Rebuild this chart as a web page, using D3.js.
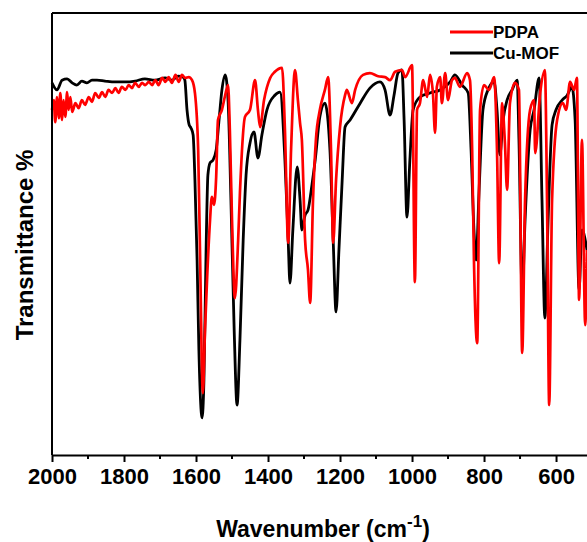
<!DOCTYPE html>
<html>
<head>
<meta charset="utf-8">
<script src="https://cdn.jsdelivr.net/npm/d3@7"></script>
<style>
  body { margin: 0; background: #fff; }
  svg text { font-family: "Liberation Sans", Arial, sans-serif; font-weight: bold; fill: #000; }
</style>
</head>
<body>
<div id="chart"></div>
<script>
// Data (wavenumber in cm-1, transmittance in arbitrary %)
const mofWavenumber = [2000, 1986, 1972, 1958, 1944, 1931, 1917, 1903, 1889, 1875, 1853, 1825, 1797, 1769, 1742, 1714, 1686, 1667, 1650, 1636,
    1631, 1625, 1619, 1614, 1608, 1603, 1597, 1592, 1583, 1578, 1572, 1567, 1561, 1553, 1544, 1536, 1528, 1519, 1511, 1503,
    1494, 1486, 1478, 1469, 1461, 1450, 1439, 1428, 1417, 1403, 1381, 1367, 1353, 1344, 1339, 1331, 1319, 1311, 1306, 1297,
    1289, 1278, 1269, 1256, 1242, 1228, 1219, 1211, 1203, 1194, 1186, 1172, 1144, 1117, 1089, 1075, 1061, 1050, 1039, 1028,
    1022, 1014, 1006, 997, 978, 950, 922, 894, 881, 861, 844, 836, 828, 822, 814, 803, 789, 772, 764, 756,
    747, 736, 722, 708, 703, 694, 686, 672, 661, 647, 639, 631, 622, 611, 600, 583, 569, 556, 547, 536, 528, 514];
const mofTransmittance = [84.2, 82.6, 84.8, 85.1, 84.2, 83.7, 84.6, 84.2, 84.8, 84.8, 84.6, 84.4, 84.4, 84.6, 85.1, 84.8, 85.3, 84.8, 85.7, 85.5,
    84.8, 78.1, 74.7, 74.0, 72.4, 62.2, 44.1, 23.8, 8.4, 17.0, 46.4, 63.3, 66.1, 66.7, 69.0, 75.8, 82.6, 86.0, 80.3, 57.7,
    28.3, 11.3, 26.0, 48.6, 63.3, 70.6, 73.1, 67.2, 72.4, 78.1, 81.4, 82.1, 66.7, 48.6, 38.9, 50.9, 65.2, 57.7, 50.9, 54.3,
    55.4, 61.1, 66.7, 76.5, 79.6, 69.0, 48.6, 32.4, 46.4, 62.2, 74.2, 75.8, 79.6, 83.0, 84.4, 82.6, 76.9, 81.4, 86.4, 87.1,
    75.8, 53.8, 66.7, 78.1, 81.0, 81.9, 82.6, 84.4, 86.0, 83.7, 81.9, 69.0, 50.9, 44.1, 59.3, 78.1, 82.6, 84.4, 78.1, 67.9,
    75.8, 80.3, 82.6, 84.8, 71.3, 36.7, 53.2, 73.5, 78.1, 85.3, 57.7, 31.0, 53.2, 74.7, 78.1, 80.3, 81.4, 83.3, 75.8, 37.3, 50.9, 46.4];

const pdpaWavenumber = [2000, 1995, 1991, 1986, 1981, 1977, 1972, 1968, 1963, 1958, 1954, 1949, 1944, 1935, 1926, 1917, 1908, 1898, 1889, 1880,
    1870, 1861, 1852, 1843, 1833, 1824, 1815, 1806, 1796, 1787, 1778, 1769, 1759, 1750, 1741, 1731, 1722, 1713, 1704, 1694,
    1685, 1676, 1667, 1657, 1648, 1639, 1630, 1620, 1611, 1603, 1594, 1589, 1581, 1575, 1569, 1561, 1556, 1550, 1544, 1539,
    1528, 1519, 1511, 1506, 1500, 1492, 1483, 1478, 1464, 1450, 1436, 1428, 1422, 1411, 1394, 1381, 1361, 1353, 1344, 1336,
    1325, 1317, 1311, 1306, 1297, 1289, 1283, 1275, 1267, 1256, 1242, 1233, 1225, 1219, 1211, 1200, 1186, 1181, 1167, 1158,
    1136, 1117, 1094, 1075, 1061, 1047, 1028, 1019, 1000, 992, 986, 978, 969, 958, 950, 942, 936, 931, 922, 917,
    908, 900, 889, 881, 867, 847, 839, 833, 828, 819, 811, 800, 786, 772, 764, 758, 750, 742, 736, 728,
    714, 703, 694, 686, 672, 661, 658, 644, 631, 625, 619, 611, 597, 581, 572, 561, 550, 542, 536, 528, 519, 514];
const pdpaTransmittance = [78.1, 80.3, 75.3, 81.0, 76.2, 81.9, 75.8, 80.3, 76.5, 82.1, 78.1, 81.0, 77.6, 79.6, 78.5, 80.3, 79.2, 81.0, 79.9, 81.9,
    80.8, 82.1, 81.0, 82.6, 81.9, 83.0, 81.9, 83.3, 82.6, 83.7, 83.0, 84.2, 83.3, 84.2, 83.7, 84.4, 83.7, 84.8, 83.7, 85.3,
    84.4, 85.5, 84.2, 86.0, 84.4, 86.0, 85.3, 85.5, 84.8, 81.9, 69.0, 46.4, 14.0, 28.3, 40.3, 53.2, 58.4, 56.6, 62.9, 75.8,
    78.1, 81.4, 83.7, 73.5, 53.2, 35.5, 48.6, 59.3, 76.5, 78.1, 84.8, 78.1, 74.2, 80.3, 85.3, 86.7, 87.6, 73.5, 48.0, 69.0,
    87.1, 80.3, 75.1, 71.3, 48.6, 41.9, 34.4, 57.7, 71.3, 78.1, 82.6, 85.5, 69.0, 48.0, 62.2, 74.2, 81.4, 82.6, 79.6, 82.6,
    86.0, 86.4, 85.7, 85.5, 84.8, 86.7, 87.1, 85.5, 88.2, 39.1, 78.1, 79.6, 84.8, 81.0, 86.0, 81.9, 72.9, 83.3, 85.5, 79.6,
    86.4, 80.3, 84.8, 85.3, 83.3, 86.4, 84.8, 69.0, 44.1, 25.3, 78.1, 83.7, 82.6, 85.5, 69.0, 43.4, 79.6, 70.6, 60.0, 79.6,
    84.2, 82.6, 23.1, 57.7, 78.1, 80.3, 68.3, 81.9, 87.1, 57.7, 11.3, 57.7, 75.8, 79.6, 78.1, 84.4, 82.6, 85.3, 35.1, 71.3, 29.4, 46.4];

const seriesNames = ["PDPA", "Cu-MOF"];
const seriesColors = ["#ff0000", "#000000"];
const majorTicks = [2000, 1800, 1600, 1400, 1200, 1000, 800, 600];
const minorTicks = [1900, 1700, 1500, 1300, 1100, 900, 700];

// Layout
const W = 587, H = 542;
const margin = { top: 13, right: 0, bottom: 87, left: 52 };
const width = W - margin.left - margin.right;
const height = H - margin.top - margin.bottom;

const svg = d3.select("#chart")
    .append("svg")
    .attr("width", W)
    .attr("height", H);

const g = svg.append("g")
    .attr("transform", `translate(${margin.left}, ${margin.top})`);

const x = d3.scaleLinear().domain([2000, 514]).range([0, width]);
const y = d3.scaleLinear().domain([0, 100]).range([height, 0]);

const line = d3.line()
    .x(d => x(d[0]))
    .y(d => y(d[1]))
    .curve(d3.curveMonotoneX);

const mof = mofWavenumber.map((w, i) => [w, mofTransmittance[i]]);
const pdpa = pdpaWavenumber.map((w, i) => [w, pdpaTransmittance[i]]);

// Spectra (black first, red on top)
g.append("path")
    .datum(mof)
    .attr("fill", "none")
    .attr("stroke", seriesColors[1])
    .attr("stroke-width", 2.8)
    .attr("stroke-linejoin", "round")
    .attr("d", line);

g.append("path")
    .datum(pdpa)
    .attr("fill", "none")
    .attr("stroke", seriesColors[0])
    .attr("stroke-width", 2.7)
    .attr("stroke-linejoin", "round")
    .attr("d", line);

// Frame: left and top spines
g.append("line")
    .attr("x1", 0).attr("x2", 0).attr("y1", 0).attr("y2", height)
    .attr("stroke", "#000").attr("stroke-width", 2);
g.append("line")
    .attr("x1", 0).attr("x2", width).attr("y1", 0).attr("y2", 0)
    .attr("stroke", "#000").attr("stroke-width", 2);

// Bottom axis
const xAxis = g.append("g")
    .attr("transform", `translate(0, ${height})`)
    .call(d3.axisBottom(x).tickValues(majorTicks).tickSize(7).tickSizeOuter(0).tickPadding(6).tickFormat(d3.format("d")));
xAxis.select(".domain").attr("stroke-width", 2);
xAxis.selectAll(".tick line").attr("stroke-width", 2);
xAxis.selectAll(".tick text")
    .style("font-size", "22px")
    .style("font-family", "'Liberation Sans', Arial, sans-serif")
    .style("font-weight", "bold");

g.append("g")
    .attr("transform", `translate(0, ${height})`)
    .selectAll("line")
    .data(minorTicks)
    .join("line")
    .attr("x1", d => x(d)).attr("x2", d => x(d))
    .attr("y1", 0).attr("y2", 4)
    .attr("stroke", "#000").attr("stroke-width", 2);

// Axis titles
const xTitle = svg.append("text")
    .attr("text-anchor", "middle")
    .attr("x", 323)
    .attr("y", 537)
    .style("font-size", "23px");
xTitle.append("tspan").text("Wavenumber (cm");
xTitle.append("tspan").attr("dy", -10).style("font-size", "17px").text("-1");
xTitle.append("tspan").attr("dy", 10).text(")");

svg.append("text")
    .attr("text-anchor", "middle")
    .attr("transform", "translate(33, 245) rotate(-90)")
    .style("font-size", "24px")
    .text("Transmittance %");

// Legend
const legend = svg.append("g").attr("transform", "translate(450, 32)");
seriesNames.forEach((name, i) => {
    const row = legend.append("g").attr("transform", `translate(0, ${i * 21})`);
    row.append("line")
        .attr("x1", 0).attr("x2", 43)
        .attr("stroke", seriesColors[i])
        .attr("stroke-width", 2.8);
    row.append("text")
        .attr("x", 43)
        .attr("y", 6)
        .style("font-size", "17px")
        .text(name);
});
</script>
</body>
</html>
